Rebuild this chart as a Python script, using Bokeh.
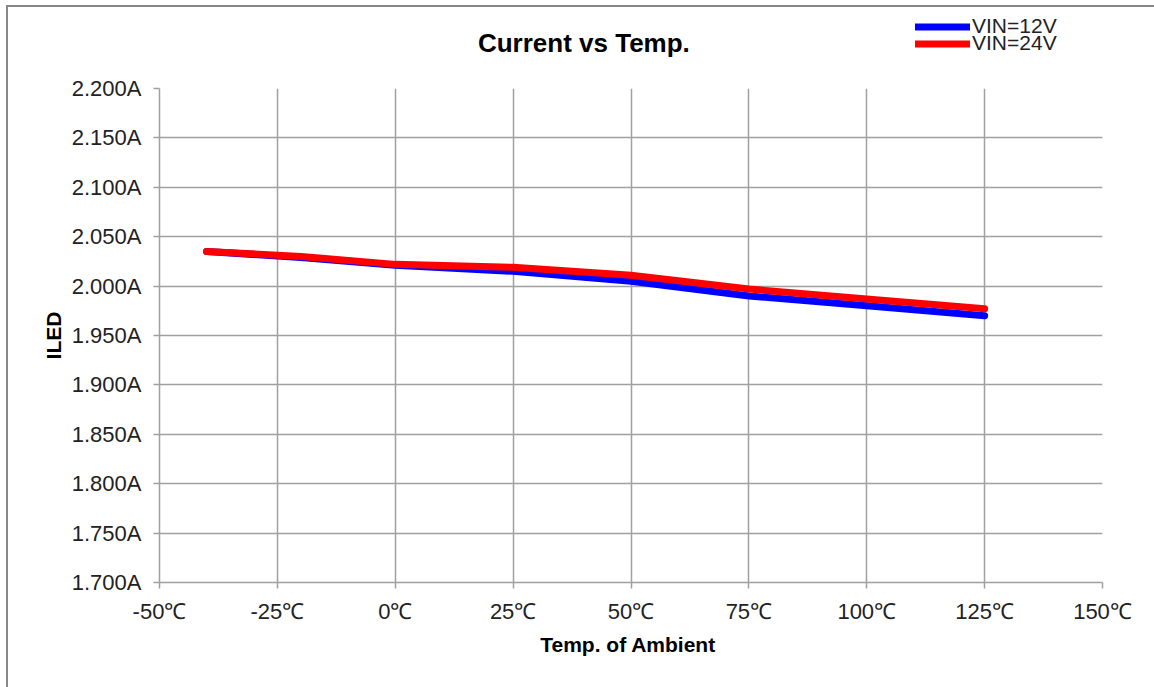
from bokeh.plotting import figure
from bokeh.layouts import column
from bokeh.models import (Legend, LegendItem, PrintfTickFormatter, FixedTicker,
                          Range1d, Label)
from bokeh.embed import file_html
from bokeh.resources import INLINE

temps = [-40, -20, 0, 25, 50, 75, 100, 125]
iled_12v = [2.035, 2.029, 2.021, 2.015, 2.005, 1.990, 1.980, 1.970]
iled_24v = [2.035, 2.030, 2.022, 2.019, 2.011, 1.997, 1.987, 1.977]
x_ticks = [-50, -25, 0, 25, 50, 75, 100, 125, 150]
y_ticks = [1.70, 1.75, 1.80, 1.85, 1.90, 1.95, 2.00, 2.05, 2.10, 2.15, 2.20]
series_names = ["VIN=12V", "VIN=24V"]
series_colors = ["#0000ff", "#ff0000"]
title_text = "Current vs  Temp."

FONT = "Liberation Sans"
W = 1146
HEAD_H = 60
BL, BR = 151, 52
FW = W - BL - BR

# header: title + legend (outside the plotting frame in the original)
head = figure(width=W, height=HEAD_H, output_backend="svg", toolbar_location=None,
              x_range=Range1d(0, FW), y_range=Range1d(0, HEAD_H),
              x_axis_location=None, y_axis_location=None,
              min_border_left=BL, min_border_right=BR,
              min_border_top=0, min_border_bottom=0)
head.outline_line_color = None
head.xgrid.visible = False
head.ygrid.visible = False
head.add_layout(Label(x=428, y=HEAD_H - 35, text=title_text, text_align="center",
                      text_baseline="middle", text_font=FONT, text_font_size="26px",
                      text_font_style="bold", text_color="black"))
# legend-key renderers (no visible data in the header)
nan = float("nan")
dummy = [head.line(x=[nan, nan], y=[nan, nan], line_color=c, line_width=7, line_cap="round")
         for c in series_colors]
for name, r, vy in zip(series_names, dummy, [29, 12]):
    lg = Legend(items=[LegendItem(label=name, renderers=[r])], location=(756, vy))
    lg.border_line_color = None
    lg.background_fill_alpha = 0
    lg.label_text_font = FONT
    lg.label_text_font_size = "21px"
    lg.label_text_color = "#222222"
    lg.glyph_width = 55
    lg.glyph_height = 17
    lg.label_height = 17
    lg.label_standoff = 2
    lg.padding = 0
    lg.margin = 0
    head.add_layout(lg, "center")

p = figure(width=W, height=680 - HEAD_H, output_backend="svg", toolbar_location=None,
           x_range=Range1d(-50, 150), y_range=Range1d(1.7, 2.2),
           min_border_left=BL, min_border_right=BR, min_border_top=21,
           min_border_bottom=105)
p.outline_line_color = None

p.xaxis.ticker = FixedTicker(ticks=x_ticks)
p.yaxis.ticker = FixedTicker(ticks=y_ticks)
p.xaxis.formatter = PrintfTickFormatter(format="%d℃")
p.yaxis.formatter = PrintfTickFormatter(format="%.3fA")
for ax in (p.xaxis[0], p.yaxis[0]):
    ax.axis_line_color = "#a0a0a0"
    ax.axis_line_width = 1.5
    ax.major_tick_line_color = "#a0a0a0"
    ax.major_tick_line_width = 1.5
    ax.major_tick_out = 6
    ax.major_tick_in = 0
    ax.minor_tick_line_color = None
    ax.major_label_text_font = FONT
    ax.major_label_text_font_size = "22px"
    ax.major_label_text_color = "#222222"
    ax.axis_label_text_font = FONT
    ax.axis_label_text_font_size = "21px"
    ax.axis_label_text_font_style = "bold"
    ax.axis_label_text_color = "black"
p.xaxis.axis_label = "Temp.  of Ambient"
p.yaxis.axis_label = "ILED"
p.xaxis.major_label_standoff = 10
p.xaxis.axis_label_standoff = 6
p.yaxis.major_label_standoff = 12
p.yaxis.axis_label_standoff = 4

p.xgrid.grid_line_color = "#a0a0a0"
p.ygrid.grid_line_color = "#a0a0a0"
p.xgrid.grid_line_width = 1.5
p.ygrid.grid_line_width = 1.5

p.line(temps, iled_12v, line_color=series_colors[0], line_width=7, line_cap="round", line_join="round")
p.line(temps, iled_24v, line_color=series_colors[1], line_width=7, line_cap="round", line_join="round")

layout = column(head, p, spacing=0)
layout.styles = {"border-left": "2px solid #888888", "border-top": "2px solid #888888",
                 "margin-left": "6px", "margin-top": "5px"}

open("out.html", "w").write(file_html(layout, INLINE))
